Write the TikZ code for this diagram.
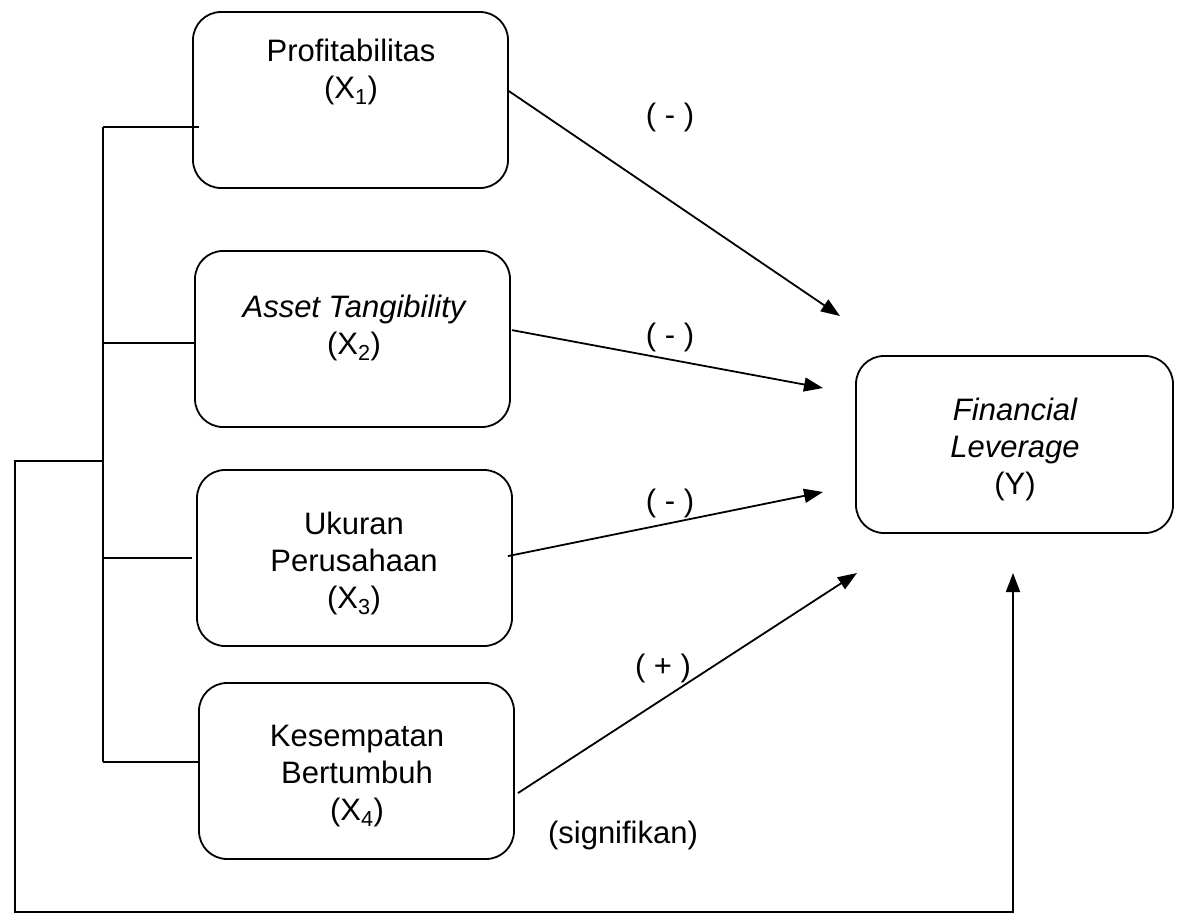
\documentclass[tikz,border=0pt]{standalone}
\usepackage{fontspec}
\setmainfont{Liberation Sans}
\usetikzlibrary{arrows.meta,calc}
\begin{document}
\begin{tikzpicture}[x=1pt,y=-1pt, line width=1.8pt,
  box/.style={draw, rounded corners=28pt, minimum width=315pt, minimum height=176pt, inner sep=0pt},
  txt/.style={font=\fontsize{31}{37}\selectfont, align=center, anchor=north, inner sep=0pt},
  lbl/.style={font=\fontsize{31}{37}\selectfont, inner sep=0pt},
  arr/.style={-{Triangle[length=19pt,width=14pt]}},
]
\useasboundingbox (0,0) rectangle (1178,916);
% boxes
\node[box] (b1) at (350.5,100) {};
\node[box] (b2) at (352.5,339) {};
\node[box] (b3) at (354.5,558) {};
\node[box] (b4) at (356.5,771) {};
\node[box, minimum width=317pt, minimum height=177pt] (bY) at (1014.5,444.5) {};
% texts
\node[txt] (t1) at (351,38) {Profitabilitas\\(X\textsubscript{1})};
\node[txt] (t2) at (354,294) {\itshape Asset Tangibility\\(X\textsubscript{2})};
\node[txt] (t3) at (354,511) {Ukuran\\Perusahaan\\(X\textsubscript{3})};
\node[txt] (t4) at (357,724) {Kesempatan\\Bertumbuh\\(X\textsubscript{4})};
\node[txt] (tY) at (1015,397) {\itshape Financial\\\itshape Leverage\\(Y)};
% bracket
\coordinate (j1) at (103,127);
\coordinate (j2) at (103,343);
\coordinate (jm) at (103,461);
\coordinate (j3) at (103,558);
\coordinate (j4) at (103,762);
\draw (j1) -- (j4);
\draw (j1) -- ($(j1 -| b1.west)+(7,0)$);
\draw (j2) -- (j2 -| b2.west);
\draw (j3) -- ($(j3 -| b3.west)+(-4,0)$);
\draw (j4) -- (j4 -| b4.west);
% outer loop
\coordinate (o1) at (15,461);
\coordinate (o2) at (15,912);
\coordinate (o3) at (1013,912);
\coordinate (yt) at (1013,573);
\draw[arr] (jm) -- (o1) -- (o2) -- (o3) -- (yt);
% arrows
\coordinate (s1) at ($(b1.north east)+(0,80)$);
\coordinate (e1) at (840,316);
\coordinate (s2) at ($(b2.north east)+(1,80)$);
\coordinate (e2) at (823,388);
\coordinate (s3) at ($(b3.north east)+(-5,87)$);
\coordinate (e3) at (823,492);
\coordinate (s4) at ($(b4.north east)+(3,111)$);
\coordinate (e4) at (857,573);
\draw[arr] (s1) -- (e1);
\draw[arr] (s2) -- (e2);
\draw[arr] (s3) -- (e3);
\draw[arr] (s4) -- (e4);
% labels
\node[lbl] (l1) at (670,117) {( - )};
\node[lbl] (l2) at (670,337) {( - )};
\node[lbl] (l3) at (670,503) {( - )};
\node[lbl] (l4) at (663,668) {( + )};
\node[lbl] (ls) at (623,835) {(signifikan)};
\end{tikzpicture}
\end{document}
